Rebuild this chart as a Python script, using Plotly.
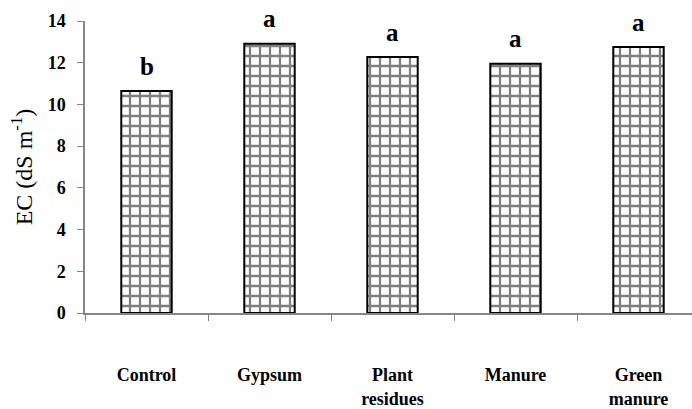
import plotly.graph_objects as go

categories = ["Control", "Gypsum", "Plant<br>residues", "Manure", "Green<br>manure"]
ec_values = [10.64, 12.91, 12.27, 11.95, 12.75]
letters = ["b", "a", "a", "a", "a"]
y_ticks = [0, 2, 4, 6, 8, 10, 12, 14]

fig = go.Figure()
fig.add_trace(go.Bar(
    x=categories, y=ec_values, width=0.41,
    marker=dict(color="white", line=dict(color="black", width=2),
                pattern=dict(shape="+", fgcolor="black", bgcolor="white",
                             size=10, solidity=0.4)),
    showlegend=False,
))
for c, v, l in zip(categories, ec_values, letters):
    fig.add_annotation(x=c, y=v, text="<b>" + l + "</b>", showarrow=False, yanchor="middle",
                       yshift=25, font=dict(family="Liberation Serif", size=25, color="black"))

fig.update_layout(
    width=692, height=409,
    margin=dict(l=85, r=0, t=21, b=96),
    plot_bgcolor="white", paper_bgcolor="white",
    font=dict(family="Liberation Serif", color="black"),
)
fig.update_xaxes(
    range=[-0.5, 4.435], showline=True, linecolor="#868686", linewidth=1.5,
    ticks="outside", tickson="boundaries", ticklen=6, tickcolor="#868686",
    tickfont=dict(family="Liberation Serif", size=18, color="black", weight="bold"),
    ticklabelstandoff=45, showgrid=False, automargin=False,
)
fig.update_yaxes(
    range=[0, 14], tickvals=y_ticks, showline=True, linecolor="#868686", linewidth=1.5,
    ticks="outside", ticklen=6, tickcolor="#868686", showgrid=False, zeroline=False,
    tickfont=dict(family="Liberation Serif", size=18, color="black", weight="bold"),
    ticklabelstandoff=8, automargin=False,
    title=dict(text="EC (dS m<sup>-1</sup>)", font=dict(family="Liberation Serif", size=24), standoff=8),
)
fig.write_html("out.html", config={"displayModeBar": False},
               post_script="document.body.style.margin='0';")
